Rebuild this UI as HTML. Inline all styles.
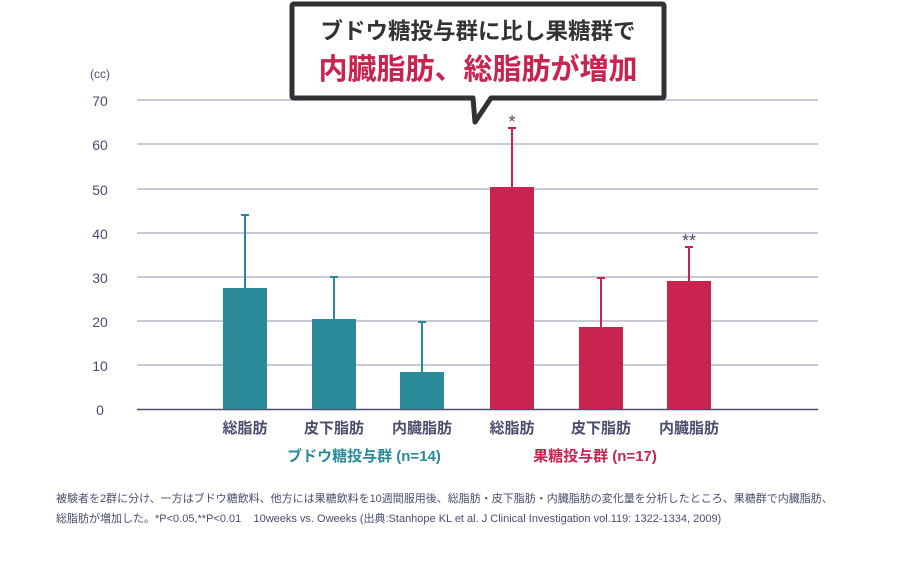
<!DOCTYPE html>
<html><head><meta charset="utf-8"><style>
body{margin:0;background:#fff;}
svg{display:block;font-family:"Liberation Sans","Noto Sans CJK JP",sans-serif;}
</style></head><body>
<svg width="920" height="562" viewBox="0 0 920 562" xmlns="http://www.w3.org/2000/svg">
<g stroke="#a9aabf" stroke-width="1.3">
<line x1="137" y1="100" x2="818" y2="100"/>
<line x1="137" y1="144" x2="818" y2="144"/>
<line x1="137" y1="189" x2="818" y2="189"/>
<line x1="137" y1="233" x2="818" y2="233"/>
<line x1="137" y1="277" x2="818" y2="277"/>
<line x1="137" y1="321" x2="818" y2="321"/>
<line x1="137" y1="365" x2="818" y2="365"/>
</g>
<line x1="137" y1="409.5" x2="818" y2="409.5" stroke="#4a4d6e" stroke-width="1.5"/>
<g fill="#4a4d6e" font-size="14" text-anchor="middle">
<text x="100" y="78" font-size="12">(cc)</text>
<text x="100" y="106">70</text><text x="100" y="150">60</text><text x="100" y="195">50</text>
<text x="100" y="239">40</text><text x="100" y="283">30</text><text x="100" y="327">20</text>
<text x="100" y="371">10</text><text x="100" y="415">0</text>
</g>
<g stroke-width="2">
<g stroke="#2a8a99" fill="#2a8a99">
<rect x="223" y="288" width="44" height="121" stroke="none"/>
<line x1="245" y1="288" x2="245" y2="215"/><line x1="241" y1="215" x2="249" y2="215"/>
<rect x="312" y="319" width="44" height="90" stroke="none"/>
<line x1="334" y1="319" x2="334" y2="277"/><line x1="330" y1="277" x2="338" y2="277"/>
<rect x="400" y="372" width="44" height="37" stroke="none"/>
<line x1="422" y1="372" x2="422" y2="322"/><line x1="418" y1="322" x2="426" y2="322"/>
</g>
<g stroke="#c9234f" fill="#c9234f">
<rect x="490" y="187" width="44" height="222" stroke="none"/>
<line x1="512" y1="187" x2="512" y2="128"/><line x1="508" y1="128" x2="516" y2="128"/>
<rect x="579" y="327" width="44" height="82" stroke="none"/>
<line x1="601" y1="327" x2="601" y2="278"/><line x1="597" y1="278" x2="605" y2="278"/>
<rect x="667" y="281" width="44" height="128" stroke="none"/>
<line x1="689" y1="281" x2="689" y2="247"/><line x1="685" y1="247" x2="693" y2="247"/>
</g>
</g>
<g fill="#4a4d6e" font-size="18" text-anchor="middle">
<text x="512" y="128">*</text>
<text x="689" y="247">**</text>
</g>
<g fill="#4a4d6e" font-size="15" font-weight="bold" text-anchor="middle">
<text x="245" y="433">総脂肪</text><text x="334" y="433">皮下脂肪</text><text x="422" y="433">内臓脂肪</text>
<text x="512" y="433">総脂肪</text><text x="601" y="433">皮下脂肪</text><text x="689" y="433">内臓脂肪</text>
</g>
<text x="364" y="461" fill="#2a8a99" font-size="15" font-weight="bold" text-anchor="middle">ブドウ糖投与群 (n=14)</text>
<text x="595" y="461" fill="#c9234f" font-size="15" font-weight="bold" text-anchor="middle">果糖投与群 (n=17)</text>
<g fill="#4a4d6e" font-size="11">
<text x="56" y="502">被験者を2群に分け、一方はブドウ糖飲料、他方には果糖飲料を10週間服用後、総脂肪・皮下脂肪・内臓脂肪の変化量を分析したところ、果糖群で内臓脂肪、</text>
<text x="56" y="522" xml:space="preserve">総脂肪が増加した。*P&lt;0.05,**P&lt;0.01    10weeks vs. Oweeks (出典:Stanhope KL et al. J Clinical Investigation vol.119: 1322-1334, 2009)</text>
</g>
<path d="M294,4 H662 Q664,4 664,6 V96 Q664,98 662,98 H491 L475,122 L473,98 H294 Q292,98 292,96 V6 Q292,4 294,4 Z" fill="#fff" stroke="#303236" stroke-width="5" stroke-linejoin="round"/>
<text x="478" y="39" fill="#333" font-size="22.5" font-weight="bold" text-anchor="middle">ブドウ糖投与群に比し果糖群で</text>
<text x="478" y="79" fill="#c9234f" font-size="29" font-weight="bold" text-anchor="middle">内臓脂肪、総脂肪が増加</text>
</svg>
</body></html>
